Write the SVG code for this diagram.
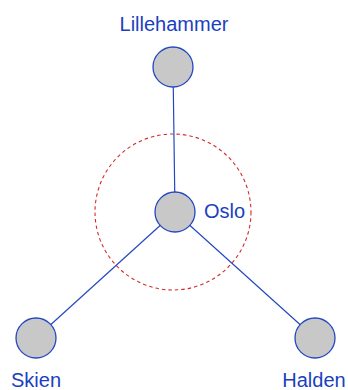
<svg xmlns="http://www.w3.org/2000/svg" width="348" height="390" viewBox="0 0 348 390">
<style>
.node circle{fill:#c8c8c8;stroke:#2448c0;stroke-width:1.3}
.lbl{font-family:"Liberation Sans",Arial,sans-serif;font-size:20px;fill:#1a3fbf}
.edge{stroke:#2448c0;stroke-width:1.2;fill:none}
</style>
<rect width="348" height="390" fill="#fff"/>
<circle id="range" cx="173" cy="212" r="78" fill="none" stroke="#d42a2a" stroke-width="1.1" stroke-dasharray="3.5,3"/>
<g id="connectors">
<line class="edge" x1="173" y1="67" x2="175" y2="212"/>
<line class="edge" x1="175" y1="212" x2="36" y2="338"/>
<line class="edge" x1="175" y1="212" x2="315" y2="338"/>
</g>
<g id="lillehammer" class="node"><circle cx="173" cy="67" r="20"/><text class="lbl" x="174" y="31" text-anchor="middle">Lillehammer</text></g>
<g id="oslo" class="node"><circle cx="175" cy="212" r="20"/><text class="lbl" x="204" y="218">Oslo</text></g>
<g id="skien" class="node"><circle cx="36" cy="338" r="20"/><text class="lbl" x="36" y="386.5" text-anchor="middle">Skien</text></g>
<g id="halden" class="node"><circle cx="315" cy="338" r="20"/><text class="lbl" x="314" y="386.5" text-anchor="middle">Halden</text></g>
</svg>
